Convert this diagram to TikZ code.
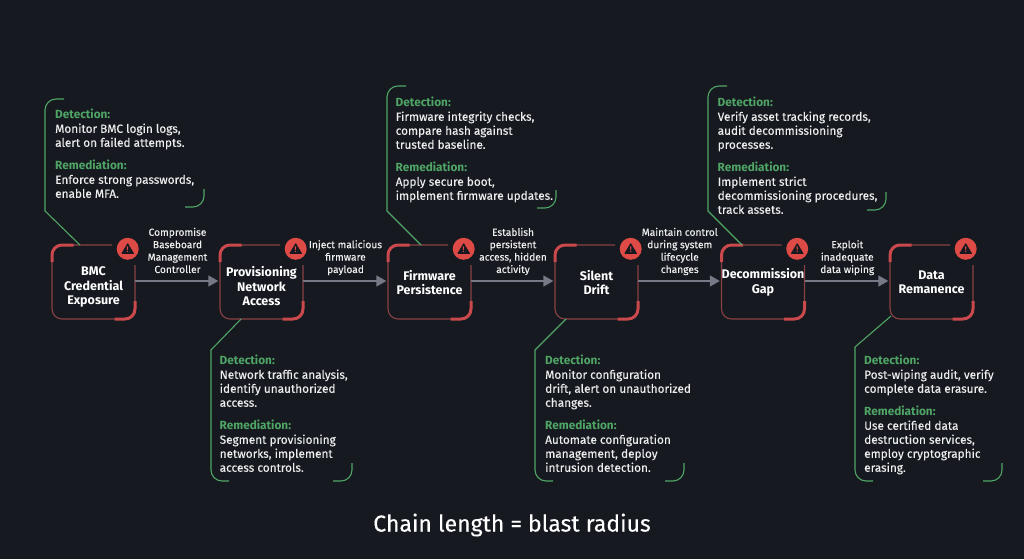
\documentclass[tikz,border=0pt]{standalone}
\usepackage{fontspec}
\setmainfont[UprightFeatures={FakeBold=0.25}]{Fira Sans}
\usetikzlibrary{calc,arrows.meta,positioning}

\definecolor{bgdark}{HTML}{16191F}
\definecolor{dgreen}{HTML}{4FA566}
\definecolor{boxthin}{HTML}{8A4145}
\definecolor{boxthick}{HTML}{C9494C}
\definecolor{badgered}{HTML}{DE4A45}
\definecolor{flowgray}{HTML}{767A86}
\definecolor{txtlight}{HTML}{EDEDED}

\tikzset{
  stepbox/.style={minimum width=83pt,minimum height=74pt,inner sep=0pt},
  steptext/.style={align=center,text=white,inner sep=0pt,
    font=\fontsize{12.5}{14.5}\selectfont\bfseries},
  badge/.style={circle,fill=badgered,minimum size=22pt,inner sep=0pt},
  flow/.style={flowgray,line width=1.6pt,-{Triangle[length=10pt,width=11pt]},shorten >=1.5pt},
  flowtext/.style={align=center,text=txtlight,inner sep=0pt,above=3.5pt,
    font=\fontsize{10.2}{12.4}\selectfont},
  paneltext/.style={anchor=north west,align=left,inner sep=0pt,text=txtlight,
    font=\fontsize{11.8}{14}\selectfont},
  panelline/.style={dgreen,line width=1.1pt},
}
\newcommand{\dr}[2]{\textcolor{dgreen}{\bfseries Detection:}\\#1\\[9pt]\textcolor{dgreen}{\bfseries Remediation:}\\#2}

\begin{document}
\begin{tikzpicture}[x=1pt,y=-1pt]
  \fill[bgdark] (0,0) rectangle (1024,559);
  \useasboundingbox (0,0) rectangle (1024,559);

  % boxes
  \foreach \i/\x/\dy/\name in {1/93.5/5/{BMC\\Credential\\Exposure},2/261.5/4.5/{Provisioning\\Network\\Access},
      3/429.5/0.5/{Firmware\\Persistence},4/596.5/0.5/{Silent\\Drift},5/763/0.5/{Decommission\\Gap},6/931.5/0.5/{Data\\Remanence}} {
    \node[stepbox] (b\i) at (\x,282) {};
    \node[steptext] (n\i) at (\x,282+\dy) {\name};
    \begin{scope}[shift={(b\i.center)}]
      \draw[boxthin,line width=1.1pt,rounded corners=10pt] (41.5,-17) -- (41.5,37) -- (-41.5,37) -- (-41.5,-37) -- (18.5,-37);
      \draw[boxthick,line width=3pt,rounded corners=10pt] (-41.5,-20) -- (-41.5,-37) -- (-20,-37);
      \draw[boxthick,line width=3pt,rounded corners=10pt] (41.5,19) -- (41.5,37) -- (21,37);
    \end{scope}
    \node[badge] (w\i) at ($(b\i.north east)+(-7.5,4)$) {};
    \fill[bgdark,rounded corners=0.6pt] ($(w\i)+(0,-6)$) -- ($(w\i)+(6.5,5)$) -- ($(w\i)+(-6.5,5)$) -- cycle;
    \node[text=badgered,inner sep=0pt,font=\fontsize{8}{8}\selectfont\bfseries] (m\i) at ($(w\i)+(0,1)$) {!};
  }

  % connectors
  \foreach \a/\b/\txt in {1/2/{Compromise\\Baseboard\\Management\\Controller},2/3/{Inject malicious\\firmware\\payload},
      3/4/{Establish\\persistent\\access, hidden\\activity},4/5/{Maintain control\\during system\\lifecycle\\changes},
      5/6/{Exploit\\inadequate\\data wiping}} {
    \draw[flow] ([yshift=1pt]b\a.east) -- node[flowtext] (t\a) {\txt\strut} ([yshift=1pt]b\b.west);
  }

  % panels above the chain
  \foreach \i/\xa/\xl/\yt/\xr/\yr in {1/80/45/99/204/189,3/421/387/86/556/190,5/742/708/86/886/192} {
    \coordinate (a\i) at (\xa,245);
    \draw[panelline] (a\i) -- (\xl,211) [rounded corners=11pt] -- (\xl,\yt) -- (\xl+19,\yt);
    \draw[panelline,rounded corners=11pt] (\xr,\yr) -- (\xr,\yr+18) -- (\xr-19,\yr+18);
  }
  % panels below the chain
  \foreach \i/\xa/\ya/\xl/\xr in {2/241/319/211/352,4/566/319/535/684,6/891/316/855/1002} {
    \coordinate (a\i) at (\xa,\ya);
    \draw[panelline] (a\i) -- (\xl,\ya+31) [rounded corners=11pt] -- (\xl,481) -- (\xl+18,481);
    \draw[panelline,rounded corners=11pt] (\xr,463) -- (\xr,481) -- (\xr-19,481);
  }

  \node[paneltext] (p1) at (55,109) {\dr{Monitor BMC login logs,\\alert on failed attempts.}{Enforce strong passwords,\\enable MFA.}};
  \node[paneltext] (p2) at (219.5,355) {\dr{Network traffic analysis,\\identify unauthorized\\access.}{Segment provisioning\\networks, implement\\access controls.}};
  \node[paneltext] (p3) at (395.5,97) {\dr{Firmware integrity checks,\\compare hash against\\trusted baseline.}{Apply secure boot,\\implement firmware updates.}};
  \node[paneltext] (p4) at (545,355) {\dr{Monitor configuration\\drift, alert on unauthorized\\changes.}{Automate configuration\\management, deploy\\intrusion detection.}};
  \node[paneltext] (p5) at (717.5,97) {\dr{Verify asset tracking records,\\audit decommissioning\\processes.}{Implement strict\\decommissioning procedures,\\track assets.}};
  \node[paneltext] (p6) at (864,355) {\dr{Post-wiping audit, verify\\complete data erasure.}{Use certified data\\destruction services,\\employ cryptographic\\erasing.}};

  \node[text=white,font=\fontsize{23}{26}\selectfont] (title) at (512,525) {Chain length = blast radius};
\end{tikzpicture}
\end{document}
